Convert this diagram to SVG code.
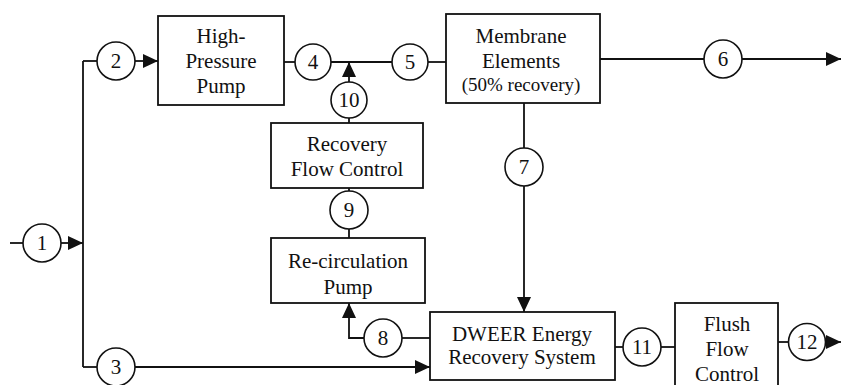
<svg xmlns="http://www.w3.org/2000/svg" width="841" height="385" viewBox="0 0 841 385">
<defs>
<marker id="arr" markerUnits="userSpaceOnUse" markerWidth="16" markerHeight="14" refX="15" refY="7" orient="auto">
<path d="M0,0 L15,7 L0,14 Z" fill="#111"/>
</marker>
<style>
.box{fill:#fff;stroke:#111;stroke-width:1.8}
.c{fill:#fff;stroke:#111;stroke-width:1.6}
.ln{fill:none;stroke:#111;stroke-width:1.8}
.t{font-family:"Liberation Serif","Times New Roman",serif;font-size:21px;fill:#111;text-anchor:middle}
.s{font-size:19px}
</style>
</defs>
<rect width="841" height="385" fill="#fff"/>
<g id="connectors">
<path class="ln" d="M10,243 H23"/>
<path class="ln" d="M61,243 H83" marker-end="url(#arr)"/>
<path class="ln" d="M83,61 V367"/>
<path class="ln" d="M83,61 H97"/>
<path class="ln" d="M135,61 H158" marker-end="url(#arr)"/>
<path class="ln" d="M83,367 H97"/>
<path class="ln" d="M135,367 H430" marker-end="url(#arr)"/>
<path class="ln" d="M284,62 H295"/>
<path class="ln" d="M331,62 H392"/>
<path class="ln" d="M349,82 V62" marker-end="url(#arr)"/>
<path class="ln" d="M428,62 H446"/>
<path class="ln" d="M600,59 H704"/>
<path class="ln" d="M742,59 H841" marker-end="url(#arr)"/>
<path class="ln" d="M524,103 V148"/>
<path class="ln" d="M524,186 V312" marker-end="url(#arr)"/>
<path class="ln" d="M349,118 V123"/>
<path class="ln" d="M349,188 V191"/>
<path class="ln" d="M349,229 V238"/>
<path class="ln" d="M364,338 H349 V303" marker-end="url(#arr)"/>
<path class="ln" d="M402,338 H430"/>
<path class="ln" d="M615,347 H623"/>
<path class="ln" d="M661,347 H675"/>
<path class="ln" d="M778,342 H789"/>
<path class="ln" d="M826,342 H841" marker-end="url(#arr)"/>
</g>
<g id="hp-pump">
<rect class="box" x="158" y="16" width="126" height="89"/>
<text class="t" x="221" y="43">High-</text>
<text class="t" x="221" y="68">Pressure</text>
<text class="t" x="221" y="93">Pump</text>
</g>
<g id="membrane">
<rect class="box" x="446" y="14" width="154" height="89"/>
<text class="t" x="521" y="43">Membrane</text>
<text class="t" x="521" y="68">Elements</text>
<text class="t s" x="521" y="91">(50% recovery)</text>
</g>
<g id="recovery-flow-control">
<rect class="box" x="271" y="123" width="152" height="65"/>
<text class="t" x="347" y="151">Recovery</text>
<text class="t" x="347" y="176">Flow Control</text>
</g>
<g id="recirc-pump">
<rect class="box" x="271" y="238" width="154" height="65"/>
<text class="t" x="348" y="268">Re-circulation</text>
<text class="t" x="348" y="294">Pump</text>
</g>
<g id="dweer">
<rect class="box" x="430" y="312" width="185" height="68"/>
<text class="t" x="522" y="341">DWEER Energy</text>
<text class="t" x="522" y="364">Recovery System</text>
</g>
<g id="flush-flow-control">
<rect class="box" x="675" y="303" width="103" height="95"/>
<text class="t" x="727" y="331">Flush</text>
<text class="t" x="727" y="356">Flow</text>
<text class="t" x="727" y="381">Control</text>
</g>
<g id="n1"><circle class="c" cx="42" cy="243" r="19"/><text class="t" x="42" y="250">1</text></g>
<g id="n2"><circle class="c" cx="116" cy="61" r="19"/><text class="t" x="116" y="68">2</text></g>
<g id="n3"><circle class="c" cx="116" cy="367" r="19"/><text class="t" x="116" y="374">3</text></g>
<g id="n4"><circle class="c" cx="313" cy="62" r="18"/><text class="t" x="313" y="69">4</text></g>
<g id="n5"><circle class="c" cx="410" cy="62" r="18"/><text class="t" x="410" y="69">5</text></g>
<g id="n6"><circle class="c" cx="723" cy="59" r="19"/><text class="t" x="723" y="66">6</text></g>
<g id="n7"><circle class="c" cx="524" cy="167" r="19"/><text class="t" x="524" y="174">7</text></g>
<g id="n8"><circle class="c" cx="383" cy="338" r="19"/><text class="t" x="383" y="345">8</text></g>
<g id="n9"><circle class="c" cx="349" cy="210" r="19"/><text class="t" x="349" y="217">9</text></g>
<g id="n10"><circle class="c" cx="349" cy="100" r="18"/><text class="t" x="349" y="107">10</text></g>
<g id="n11"><circle class="c" cx="642" cy="347" r="19"/><text class="t" x="642" y="354">11</text></g>
<g id="n12"><circle class="c" cx="807" cy="342" r="18.5"/><text class="t" x="807" y="349">12</text></g>
</svg>
